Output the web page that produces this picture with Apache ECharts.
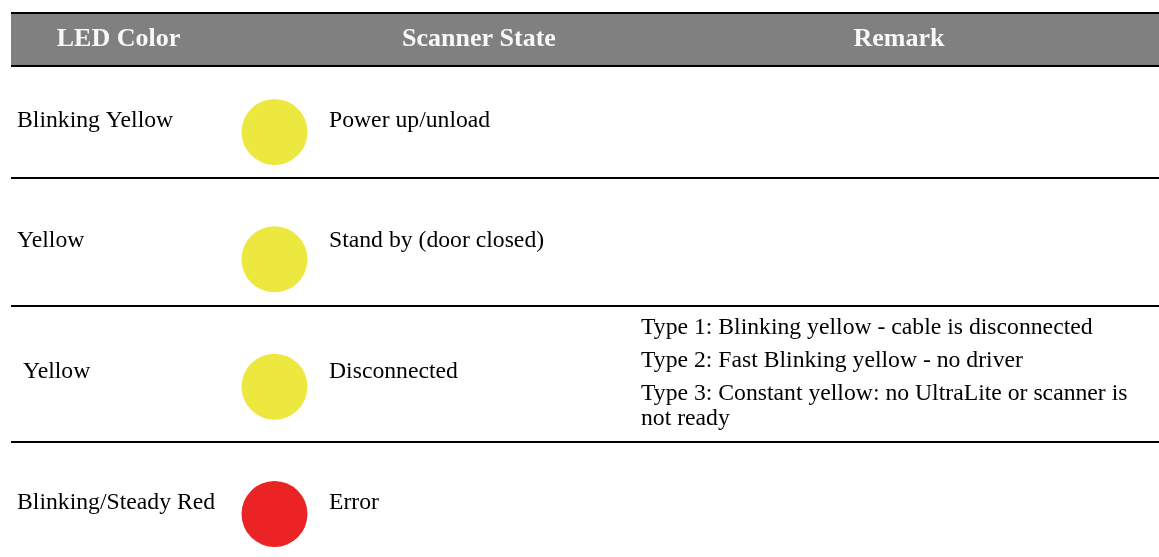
<!DOCTYPE html>
<html>
<head>
<meta charset="utf-8">
<script src="https://cdn.jsdelivr.net/npm/echarts@6/dist/echarts.min.js"></script>
<style>
html,body{margin:0;padding:0;background:#fff;}
#chart{width:1159px;height:557px;}
</style>
</head>
<body>
<div id="chart"></div>
<script>
// ---- data ----
const columns = ['LED Color', 'Scanner State', 'Remark'];
const ledColors = ['Blinking Yellow', 'Yellow', ' Yellow', 'Blinking/Steady Red'];
const scannerStates = ['Power up/unload', 'Stand by (door closed)', 'Disconnected', 'Error'];
const remarks = [
  [],
  [],
  ['Type 1: Blinking yellow - cable is disconnected',
   'Type 2: Fast Blinking yellow - no driver',
   'Type 3: Constant yellow: no UltraLite or scanner is not ready'],
  []
];
const lampColors = ['#EDE83F', '#EDE83F', '#EDE83F', '#EC2325'];

// ---- layout / styling ----
const textShiftY = [-11, -19, -15, -11];   // text sits a little above the lamp centre in each row
const remarkShiftY = -17;
const FONT = "'Liberation Serif', 'Times New Roman', serif";
const BODY = 23.7;
const REMARK_WIDTH = 505;
const chart = echarts.init(document.getElementById('chart'), null, {renderer: 'canvas'});

const rowPts = ledColors.map((c, i) => [0, i]);

// word-wrap each paragraph; paragraph lines use style "p", continuation lines style "w"
const measureCtx = document.createElement('canvas').getContext('2d');
measureCtx.font = BODY + 'px ' + FONT;
function wrapPara(t) {
  const words = t.split(' ');
  const lines = [];
  let cur = '';
  words.forEach(w => {
    const test = cur ? cur + ' ' + w : w;
    if (cur && measureCtx.measureText(test).width > REMARK_WIDTH) { lines.push(cur); cur = w; }
    else cur = test;
  });
  if (cur) lines.push(cur);
  return lines;
}
function remarkText(list) {
  if (!list.length) return '';
  const out = [];
  list.forEach(t => {
    wrapPara(t).forEach((ln, k) => out.push((k === 0 ? '{p|' : '{w|') + ln + '}'));
  });
  return out.join('\n');
}

const headerStyle = (t, x) => ({
  type: 'text', silent: true, x: x, y: 39.5,
  style: {text: t, fill: '#f8f8f8', font: 'bold 26px ' + FONT, textAlign: 'center', textVerticalAlign: 'middle'}
});
const rule = (y) => ({type: 'line', silent: true, shape: {x1: 11, y1: y, x2: 1159, y2: y}, style: {stroke: '#000', lineWidth: 2}});

const option = {
  backgroundColor: '#ffffff',
  animation: false,
  grid: {left: 241.5, width: 66, top: 132, bottom: 43},
  xAxis: {type: 'category', data: ['state'], show: false, boundaryGap: true},
  yAxis: {type: 'category', data: ledColors.map((c, i) => String(i)), inverse: true, boundaryGap: false, show: false},
  graphic: [
    {type: 'rect', silent: true, shape: {x: 11, y: 13, width: 1148, height: 53}, style: {fill: '#808080'}},
    rule(13), rule(66), rule(178), rule(306), rule(442),
    headerStyle(columns[0], 118.5),
    headerStyle(columns[1], 479),
    headerStyle(columns[2], 899)
  ],
  series: [
    {
      name: 'LED Color', type: 'scatter', silent: true, clip: false,
      symbol: 'circle', symbolSize: 0,
      data: rowPts.map((p, i) => ({value: p, label: {offset: [17 - 274.5, textShiftY[i]]}})),
      itemStyle: {color: 'transparent', opacity: 1},
      label: {
        show: true, position: 'inside', align: 'left', verticalAlign: 'middle',
        formatter: (p) => ledColors[p.dataIndex],
        color: '#000', fontFamily: FONT, fontSize: BODY
      }
    },
    {
      name: 'Scanner State', type: 'scatter', silent: true, clip: false,
      symbol: 'circle', symbolSize: 66,
      data: rowPts.map((p, i) => ({value: p, itemStyle: {color: lampColors[i], opacity: 1}, label: {offset: [0, textShiftY[i]]}})),
      itemStyle: {opacity: 1},
      label: {
        show: true, position: 'right', distance: 21.5, align: 'left', verticalAlign: 'middle',
        formatter: (p) => scannerStates[p.dataIndex],
        color: '#000', fontFamily: FONT, fontSize: BODY
      }
    },
    {
      name: 'Remark', type: 'scatter', silent: true, clip: false,
      symbol: 'circle', symbolSize: 0,
      data: rowPts.map((p, i) => ({value: p, label: {offset: [641 - 274.5, remarkShiftY]}})),
      itemStyle: {color: 'transparent', opacity: 1},
      label: {
        show: true, position: 'inside', align: 'left', verticalAlign: 'middle',
        formatter: (p) => remarkText(remarks[p.dataIndex]),
        color: '#000', fontFamily: FONT, fontSize: BODY,
        rich: {
          p: {color: '#000', fontFamily: FONT, fontSize: BODY, lineHeight: 33},
          w: {color: '#000', fontFamily: FONT, fontSize: BODY, lineHeight: 17}
        }
      }
    }
  ]
};
chart.setOption(option);
</script>
</body>
</html>
